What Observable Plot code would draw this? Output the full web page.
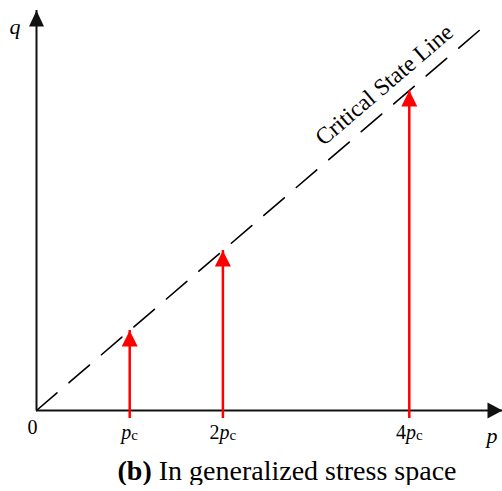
<!DOCTYPE html>
<html>
<head>
<meta charset="utf-8">
<script src="https://cdn.jsdelivr.net/npm/d3@7"></script>
<script src="https://cdn.jsdelivr.net/npm/@observablehq/plot@0.6"></script>
<style>
  html, body { margin: 0; padding: 0; background: #fff; }
  figure { margin: 0; }
  svg { display: block; }
  figcaption {
    margin-top: 7px;
    padding-left: 72px;
    text-align: center;
    font-family: "Liberation Serif", "Times New Roman", serif;
    font-size: 28px;
    line-height: 28px;
    color: #000;
  }
</style>
</head>
<body>
<div id="chart"></div>
<script>
// Mean effective stress p (in units of pc) and deviator stress q
const pMax = 5;
const qMax = 5;
const M = 1;                          // slope of the critical state line, q = M p
const cslP = [0, 4.75];               // extent of the drawn critical state line
const loadP = [1, 2, 4];              // p at which the red loading arrows stand
const pTicks = [1, 2, 4];
const pTickLabels = ["pc", "2pc", "4pc"];
const originLabel = ["0"];
const axisLabelP = ["p"];
const axisLabelQ = ["q"];
const cslLabel = ["Critical State Line"];
const cslLabelAt = [3.87];            // p along the line where the label sits
const captionBold = "(b)";
const captionText = " In generalized stress space";

const serif = "Liberation Serif, Times New Roman, serif";

// Filled arrowheads with the tip at the anchor point
const headUp = (L, W) => ({
  draw(ctx) { ctx.moveTo(0, 0); ctx.lineTo(-W, L); ctx.lineTo(W, L); ctx.closePath(); }
});
const headRight = (L, W) => ({
  draw(ctx) { ctx.moveTo(0, 0); ctx.lineTo(-L, -W); ctx.lineTo(-L, W); ctx.closePath(); }
});

const csl = cslP.map(p => ({p, q: M * p}));
const arrows = loadP.map(p => ({p, q: M * p}));
const ticks = pTicks.map((p, i) => ({p, label: pTickLabels[i]}));

const caption = document.createElement("span");
const b = document.createElement("b");
b.textContent = captionBold;
caption.append(b, document.createTextNode(captionText));

const fig = Plot.plot({
  width: 502,
  height: 450,
  marginLeft: 36,
  marginRight: 0,
  marginTop: 10,
  marginBottom: 40,
  style: {fontFamily: serif, fontSize: "20px", background: "white", color: "black", overflow: "visible"},
  x: {domain: [0, pMax], axis: null},
  y: {domain: [0, qMax], axis: null},
  caption,
  marks: [
    // critical state line
    Plot.line(csl, {x: "p", y: "q", stroke: "black", strokeWidth: 1.6, strokeDasharray: "27,15.8"}),
    // axes
    Plot.ruleY([0], {x1: 0, x2: pMax, stroke: "#111", strokeWidth: 2}),
    Plot.ruleX([0], {y1: 0, y2: qMax, stroke: "#111", strokeWidth: 2}),
    Plot.dot([0], {x: pMax, y: 0, symbol: headRight(15, 8), fill: "#111", stroke: "none"}),
    Plot.dot([0], {x: 0, y: qMax, symbol: headUp(16, 7.5), fill: "#111", stroke: "none"}),
    // loading paths up to the critical state line
    Plot.ruleX(arrows, {x: "p", y1: 0, y2: "q", insetTop: 8, stroke: "#ff0000", strokeWidth: 2.5}),
    Plot.dot(arrows, {x: "p", y: "q", symbol: headUp(16, 8), fill: "#ff0000", stroke: "none"}),
    // labels
    Plot.text(ticks, {x: "p", y: 0, text: "label", dy: 28, lineAnchor: "bottom", fontSize: 20}),
    Plot.text(originLabel, {x: 0, y: 0, text: d => d, dx: -4, dy: 23, lineAnchor: "bottom", fontSize: 20}),
    Plot.text(axisLabelP, {x: pMax, y: 0, text: d => d, dx: -10.5, dy: 32, lineAnchor: "bottom", fontSize: 22, fontStyle: "italic"}),
    Plot.text(axisLabelQ, {x: 0, y: qMax, text: d => d, dx: -21.5, dy: 23, lineAnchor: "bottom", fontSize: 22, fontStyle: "italic"}),
    Plot.text(cslLabel, {x: cslLabelAt, y: cslLabelAt.map(p => M * p), text: d => d, dx: -13, dy: -16, rotate: -40.5, fontSize: 23.5})
  ]
});

// Tick labels: roman coefficient, italic p, roman subscript c
const ns = "http://www.w3.org/2000/svg";
fig.querySelectorAll("text").forEach(t => {
  const s = t.textContent;
  if (!pTickLabels.includes(s)) return;
  const coef = s.slice(0, -2);
  t.textContent = "";
  if (coef) {
    const a = document.createElementNS(ns, "tspan");
    a.textContent = coef;
    t.appendChild(a);
  }
  const p = document.createElementNS(ns, "tspan");
  p.setAttribute("font-style", "italic");
  p.textContent = "p";
  t.appendChild(p);
  const c = document.createElementNS(ns, "tspan");
  c.setAttribute("font-size", "15");
  c.setAttribute("dy", "1");
  c.textContent = "c";
  t.appendChild(c);
});

document.getElementById("chart").appendChild(fig);
</script>
</body>
</html>
